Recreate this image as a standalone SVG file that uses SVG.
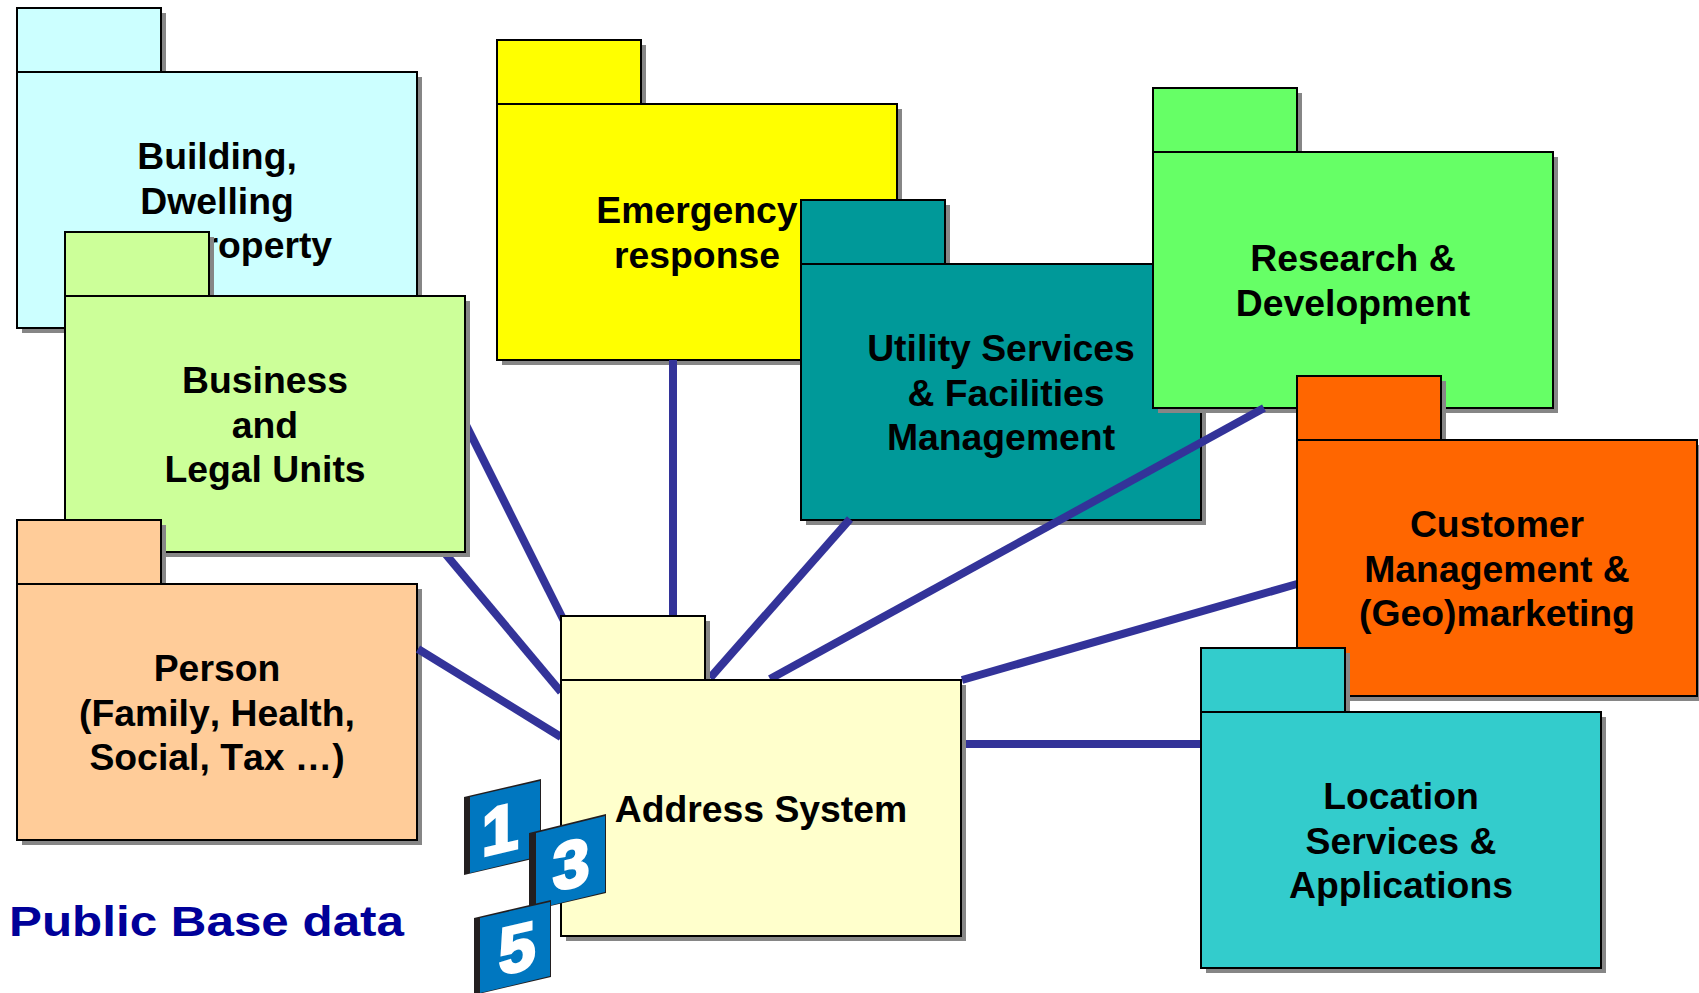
<svg xmlns="http://www.w3.org/2000/svg" width="1699" height="993" viewBox="0 0 1699 993">
<style>
.s{fill:#868686}
.b{stroke:#000;stroke-width:2}
.t{font-family:"Liberation Sans",Arial,sans-serif;font-weight:700;font-size:37.33px;text-anchor:middle;fill:#000;font-kerning:none}
.c{stroke:#333399;stroke-width:8;fill:none}
.d{fill:#0077c0}
.e{fill:#231f20}
.n{font-family:"Liberation Sans",Arial,sans-serif;font-weight:700;font-size:66px;fill:#fff;stroke:#fff;stroke-width:3;text-anchor:middle}
</style>
<defs>
<g id="folder">
<rect class="s" x="5" y="5" width="144" height="64"/>
<rect class="s" x="5" y="69" width="400" height="256"/>
</g>
<clipPath id="c1"><rect x="470" y="400" width="200" height="300"/></clipPath>
<clipPath id="c2"><rect x="400" y="557" width="200" height="200"/></clipPath>
</defs>
<rect width="1699" height="993" fill="#fff"/>
<g id="building"><use href="#folder" x="17" y="8"/><rect class="b" x="17" y="8" width="144" height="64" fill="#ccffff"/><rect class="b" x="17" y="72" width="400" height="256" fill="#ccffff"/>
<text class="t" x="217" y="169">Building,</text><text class="t" x="217" y="214">Dwelling</text><text class="t" x="217" y="258">and Property</text></g>
<g id="business"><use href="#folder" x="65" y="232"/><rect class="b" x="65" y="232" width="144" height="64" fill="#ccff99"/><rect class="b" x="65" y="296" width="400" height="256" fill="#ccff99"/>
<text class="t" x="265" y="393">Business</text><text class="t" x="265" y="438">and</text><text class="t" x="265" y="482">Legal Units</text></g>
<g id="person"><use href="#folder" x="17" y="520"/><rect class="b" x="17" y="520" width="144" height="64" fill="#ffcc99"/><rect class="b" x="17" y="584" width="400" height="256" fill="#ffcc99"/>
<text class="t" x="217" y="681">Person</text><text class="t" x="217" y="726">(Family, Health,</text><text class="t" x="217" y="770">Social, Tax …)</text></g>
<g id="emergency"><use href="#folder" x="497" y="40"/><rect class="b" x="497" y="40" width="144" height="64" fill="#ffff00"/><rect class="b" x="497" y="104" width="400" height="256" fill="#ffff00"/>
<text class="t" x="697" y="223">Emergency</text><text class="t" x="697" y="268">response</text></g>
<g id="utility"><use href="#folder" x="801" y="200"/><rect class="b" x="801" y="200" width="144" height="64" fill="#009999"/><rect class="b" x="801" y="264" width="400" height="256" fill="#009999"/>
<text class="t" x="1001" y="361">Utility Services</text><text class="t" x="1006" y="406">&amp; Facilities</text><text class="t" x="1001" y="450">Management</text></g>
<g id="research"><use href="#folder" x="1153" y="88"/><rect class="b" x="1153" y="88" width="144" height="64" fill="#66ff66"/><rect class="b" x="1153" y="152" width="400" height="256" fill="#66ff66"/>
<text class="t" x="1353" y="271">Research &amp;</text><text class="t" x="1353" y="316">Development</text></g>
<g id="connectors">
<line class="c" clip-path="url(#c1)" x1="465" y1="423" x2="566" y2="625"/>
<line class="c" clip-path="url(#c2)" x1="443" y1="551" x2="561" y2="692"/>
<line class="c" x1="418" y1="649" x2="561" y2="737"/>
<line class="c" x1="673" y1="360" x2="673" y2="616"/>
<line class="c" x1="850" y1="519" x2="710" y2="678"/>
<line class="c" x1="1264" y1="408" x2="770" y2="679"/>
<line class="c" x1="1297" y1="584" x2="962" y2="680"/>
<line class="c" x1="966" y1="744" x2="1201" y2="744"/>
</g>
<g id="customer"><use href="#folder" x="1297" y="376"/><rect class="b" x="1297" y="376" width="144" height="64" fill="#ff6600"/><rect class="b" x="1297" y="440" width="400" height="256" fill="#ff6600"/>
<text class="t" x="1497" y="537">Customer</text><text class="t" x="1497" y="582">Management &amp;</text><text class="t" x="1497" y="626">(Geo)marketing</text></g>
<g id="location"><use href="#folder" x="1201" y="648"/><rect class="b" x="1201" y="648" width="144" height="64" fill="#33cccc"/><rect class="b" x="1201" y="712" width="400" height="256" fill="#33cccc"/>
<text class="t" x="1401" y="809">Location</text><text class="t" x="1401" y="854">Services &amp;</text><text class="t" x="1401" y="898">Applications</text></g>
<g id="address"><use href="#folder" x="561" y="616"/><rect class="b" x="561" y="616" width="144" height="64" fill="#ffffcc"/><rect class="b" x="561" y="680" width="400" height="256" fill="#ffffcc"/>
<text class="t" x="761" y="822">Address System</text></g>
<g id="badge-1"><polygon class="e" points="464,797 541,779 541,857 464,875"/><polygon class="d" points="470,797 540,781 540,856 470,873"/><text class="n" transform="translate(500,852) skewY(-13)">1</text></g>
<g id="badge-3"><polygon class="e" points="529,833 606,814 606,893 529,911"/><polygon class="d" points="536,833 605,816 605,892 536,909"/><text class="n" transform="translate(571,887) skewY(-13)">3</text></g>
<g id="badge-5"><polygon class="e" points="474,918 551,900 551,977 474,995"/><polygon class="d" points="480,918 550,902 550,976 480,993"/><text class="n" transform="translate(517,971) skewY(-13)">5</text></g>
<text id="caption" x="9" y="936" font-family="'Liberation Sans',Arial,sans-serif" font-weight="700" font-size="43" fill="#000099" textLength="395" lengthAdjust="spacingAndGlyphs">Public Base data</text>
</svg>
